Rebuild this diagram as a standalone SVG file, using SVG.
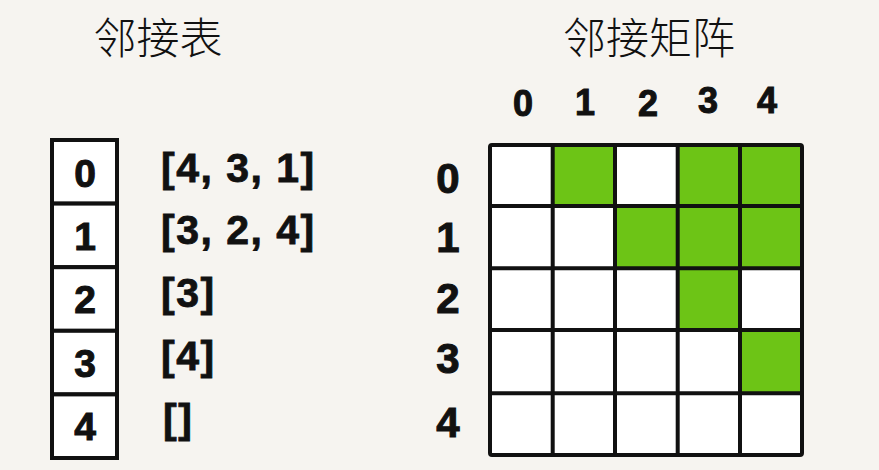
<svg xmlns="http://www.w3.org/2000/svg" width="879" height="470" viewBox="0 0 879 470">
<style>
.title{font-family:"Noto Sans CJK SC","Noto Sans",sans-serif;font-weight:300;font-size:43px;fill:#111;text-anchor:middle}
.num{font-family:"Liberation Sans",Arial,sans-serif;font-weight:bold;fill:#111;stroke:#111;stroke-width:1;text-anchor:middle}
.hdr{font-size:36px}
.row{font-size:42px}
.box{font-size:39px}
.list{font-family:"Liberation Sans",Arial,sans-serif;font-weight:bold;font-size:41px;letter-spacing:1.5px;fill:#111;stroke:#111;stroke-width:0.8}
.kbox{fill:#fff;stroke:#111;stroke-width:4}
.on{fill:#6dc416}
</style>
<rect width="879" height="470" fill="#f6f4f0"/>
<g id="titles">
<text class="title" x="158" y="54">邻接表</text>
<text class="title" x="649" y="54">邻接矩阵</text>
</g>
<g id="adjacency-list">
<g id="list-0"><rect class="kbox" x="52" y="140" width="65" height="63.6"/><text class="num box" x="85" y="187">0</text><text class="list" x="161" y="182">[4, 3, 1]</text></g>
<g id="list-1"><rect class="kbox" x="52" y="203.6" width="65" height="63.6"/><text class="num box" x="85" y="250">1</text><text class="list" x="161" y="244">[3, 2, 4]</text></g>
<g id="list-2"><rect class="kbox" x="52" y="267.2" width="65" height="63.6"/><text class="num box" x="85" y="313">2</text><text class="list" x="161" y="307">[3]</text></g>
<g id="list-3"><rect class="kbox" x="52" y="330.8" width="65" height="63.6"/><text class="num box" x="85" y="377">3</text><text class="list" x="161" y="370">[4]</text></g>
<g id="list-4"><rect class="kbox" x="52" y="394.4" width="65" height="63.6"/><text class="num box" x="85" y="440">4</text><text class="list" x="163" y="433">[]</text></g>
</g>
<g id="matrix-headers">
<text class="num hdr" x="523" y="116">0</text>
<text class="num hdr" x="585" y="115">1</text>
<text class="num hdr" x="648" y="116">2</text>
<text class="num hdr" x="708" y="113">3</text>
<text class="num hdr" x="767" y="113">4</text>
<text class="num row" x="448" y="193">0</text>
<text class="num row" x="448" y="252">1</text>
<text class="num row" x="448" y="313">2</text>
<text class="num row" x="448" y="373">3</text>
<text class="num row" x="448" y="437">4</text>
</g>
<g id="matrix">
<rect x="490" y="145" width="312" height="310" fill="#fff"/>
<g class="on">
<rect x="552.7" y="145" width="62.3" height="61"/>
<rect x="677.7" y="145" width="62.3" height="61"/>
<rect x="740" y="145" width="62" height="61"/>
<rect x="615" y="206" width="62.7" height="62.3"/>
<rect x="677.7" y="206" width="62.3" height="62.3"/>
<rect x="740" y="206" width="62" height="62.3"/>
<rect x="677.7" y="268.3" width="62.3" height="61.7"/>
<rect x="740" y="330" width="62" height="63.3"/>
</g>
<g stroke="#111" stroke-width="4" fill="none">
<rect x="490" y="145" width="312" height="310" rx="2"/>
<path d="M552.7 145V455M615 145V455M677.7 145V455M740 145V455M490 206H802M490 268.3H802M490 330H802M490 393.3H802"/>
</g>
</g>
</svg>
